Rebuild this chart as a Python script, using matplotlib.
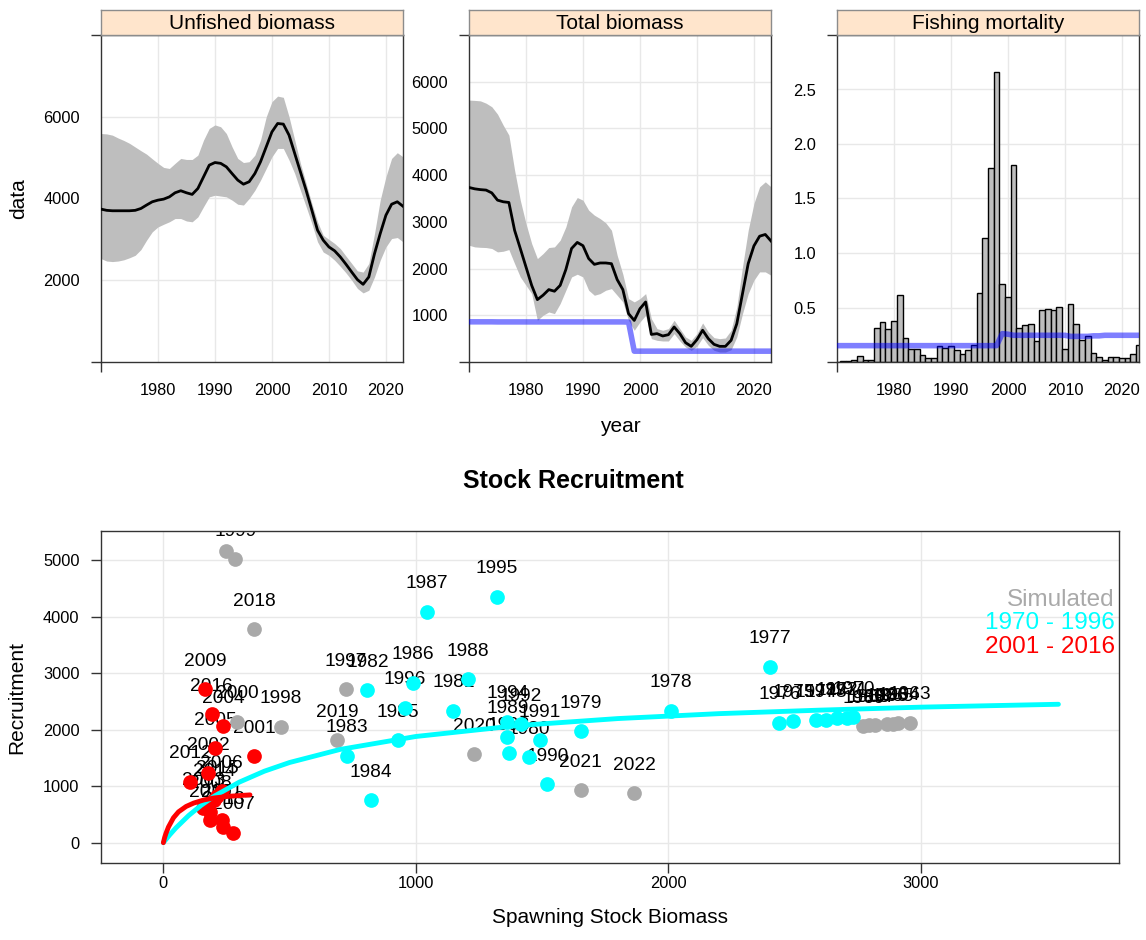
import numpy as np
import matplotlib
matplotlib.use("Agg")
import matplotlib.pyplot as plt
from matplotlib.transforms import offset_copy

plt.rcParams['font.family'] = ['Liberation Sans', 'DejaVu Sans']

# ---------------------------------------------------------------- data
years = np.arange(1970, 2024)

unfished_mid = [3740, 3710, 3700, 3700, 3700, 3700, 3710, 3755, 3840, 3920,
                3960, 3985, 4040, 4140, 4190, 4140, 4100, 4245, 4530, 4816,
                4880, 4860, 4775, 4610, 4450, 4350, 4410, 4610, 4900, 5265,
                5630, 5835, 5820, 5550, 5100, 4650, 4200, 3715, 3225, 2980,
                2815, 2720, 2570, 2390, 2200, 2015, 1900, 2080, 2650, 3140,
                3590, 3860, 3920, 3810]
unfished_hi = [5590, 5580, 5550, 5480, 5420, 5350, 5260, 5170, 5085, 4970,
               4860, 4760, 4735, 4860, 4980, 4955, 4955, 5060, 5430, 5715,
               5800, 5755, 5590, 5265, 4980, 4880, 4900, 5060, 5430, 6000,
               6370, 6505, 6475, 6000, 5430, 4860, 4370, 3880, 3430, 3100,
               3000, 2900, 2775, 2590, 2410, 2230, 2200, 2410, 3140, 3960,
               4530, 4980, 5120, 5020]
unfished_lo = [2530, 2470, 2457, 2470, 2500, 2550, 2610, 2750, 2980, 3185,
               3305, 3370, 3430, 3510, 3510, 3450, 3430, 3550, 3800, 4040,
               4080, 4060, 4040, 3960, 3860, 3840, 4000, 4200, 4450, 4735,
               5020, 5225, 5225, 4940, 4610, 4200, 3800, 3390, 2940, 2690,
               2610, 2490, 2340, 2180, 2000, 1800, 1690, 1755, 2080, 2490,
               2815, 3020, 3045, 2940]

total_mid = [3736, 3707, 3690, 3680, 3620, 3465, 3430, 3415, 2820, 2430,
             2035, 1640, 1335, 1430, 1550, 1515, 1640, 1980, 2430, 2560,
             2490, 2215, 2090, 2120, 2120, 2105, 1765, 1550, 1035, 890,
             1140, 1285, 590, 607, 557, 585, 750, 607, 414, 335,
             478, 680, 500, 378, 335, 335, 464, 820, 1464, 2107,
             2485, 2693, 2730, 2590]
total_hi = [5607, 5600, 5590, 5540, 5464, 5307, 5071, 4857, 4107, 3464,
            2964, 2535, 2214, 2321, 2450, 2464, 2607, 2893, 3321, 3521,
            3464, 3250, 3143, 3071, 2979, 2821, 2286, 1879, 1357, 1286,
            1357, 1464, 929, 714, 679, 714, 893, 714, 536, 464,
            607, 836, 643, 521, 500, 514, 679, 1179, 2036, 2821,
            3393, 3750, 3857, 3750]
total_lo = [2500, 2464, 2455, 2450, 2430, 2357, 2371, 2407, 2107, 1821,
            1643, 1464, 893, 1000, 1071, 1036, 1250, 1536, 1821, 1879,
            1821, 1536, 1429, 1464, 1536, 1571, 1429, 1286, 893, 679,
            857, 1000, 500, 464, 450, 450, 607, 450, 321, 250,
            336, 521, 357, 250, 214, 214, 264, 536, 1036, 1464,
            1750, 1929, 1929, 1857]
total_ref = [860, 860, 860, 860, 860, 858, 858, 858, 858, 858,
             858, 858, 858, 858, 858, 858, 858, 858, 858, 858,
             858, 858, 858, 858, 858, 858, 858, 858, 855, 232,
             232, 232, 232, 232, 232, 232, 232, 232, 232, 232,
             232, 232, 232, 232, 232, 232, 232, 232, 232, 232,
             232, 232, 232, 232]

fmort = [0.003, 0.005, 0.01, 0.02, 0.055, 0.02, 0.02, 0.31, 0.365, 0.30,
         0.375, 0.615, 0.22, 0.12, 0.12, 0.06, 0.035, 0.04, 0.15, 0.13,
         0.15, 0.11, 0.075, 0.11, 0.155, 0.635, 1.14, 1.78, 2.66, 0.72,
         0.60, 1.81, 0.315, 0.335, 0.345, 0.19, 0.475, 0.485, 0.48, 0.505,
         0.115, 0.53, 0.345, 0.20, 0.235, 0.085, 0.045, 0.02, 0.045, 0.05,
         0.035, 0.035, 0.07, 0.16]
fmort_ref = [0.15, 0.15, 0.15, 0.15, 0.15, 0.15, 0.15, 0.15, 0.15, 0.15,
             0.15, 0.15, 0.15, 0.15, 0.15, 0.15, 0.15, 0.15, 0.15, 0.15,
             0.15, 0.15, 0.15, 0.15, 0.15, 0.15, 0.15, 0.15, 0.15, 0.26,
             0.255, 0.245, 0.245, 0.245, 0.245, 0.245, 0.245, 0.245, 0.245, 0.245,
             0.245, 0.235, 0.235, 0.235, 0.235, 0.24, 0.24, 0.245, 0.245, 0.245,
             0.245, 0.245, 0.245, 0.245]

# stock-recruitment points: (year, SSB, recruitment)
cyan_years = [1970, 1971, 1972, 1973, 1974, 1975, 1976, 1977, 1978, 1979,
              1980, 1981, 1982, 1983, 1984, 1985, 1986, 1987, 1988, 1989,
              1990, 1991, 1992, 1993, 1994, 1995, 1996]
cyan_ssb = [2733, 2707, 2667, 2624, 2585, 2495, 2440, 2402, 2011, 1654,
            1447, 1149, 808, 726, 822, 928, 988, 1043, 1205, 1362,
            1521, 1492, 1415, 1369, 1362, 1320, 957]
cyan_rec = [2218, 2200, 2200, 2170, 2170, 2158, 2122, 3113, 2335, 1976,
            1516, 2335, 2700, 1539, 755, 1816, 2830, 4086, 2890, 1875,
            1033, 1816, 2099, 1581, 2140, 4351, 2388]

red_years = [2001, 2002, 2003, 2004, 2005, 2006, 2007, 2008, 2009, 2010,
             2011, 2012, 2013, 2014, 2015, 2016]
red_ssb = [360, 178, 158, 238, 205, 231, 277, 185, 166, 185,
           231, 106, 238, 200, 212, 192]
red_rec = [1533, 1227, 608, 2064, 1670, 913, 177, 548, 2713, 401,
           401, 1079, 272, 760, 820, 2276]

grey_years = [1997, 1998, 1999, 2000, 2017, 2018, 2019, 2020, 2021, 2022,
              1969, 1968, 1967, 1966, 1965, 1964, 1963]
grey_ssb = [722, 465, 284, 293, 248, 359, 689, 1230, 1653, 1865,
            2772, 2795, 2819, 2865, 2890, 2911, 2957]
grey_rec = [2713, 2052, 5012, 2140, 5164, 3774, 1816, 1569, 932, 873,
            2064, 2075, 2082, 2094, 2100, 2112, 2122]

# fitted stock-recruitment curves
fit_all_ssb = [0, 25, 50, 100, 150, 200, 300, 400, 500, 700, 1000, 1400,
               1800, 2200, 2600, 3000, 3545]
fit_all_rec = [0, 137, 262, 479, 662, 818, 1069, 1264, 1418, 1649, 1878,
               2070, 2195, 2282, 2344, 2397, 2448]
fit_recent_ssb = [0, 5, 10, 20, 40, 60, 90, 120, 160, 200, 260, 343]
fit_recent_rec = [0, 90, 160, 275, 440, 545, 640, 700, 755, 790, 820, 845]

# ---------------------------------------------------------------- layout
W, H = 1146, 940
fig = plt.figure(figsize=(W / 100, H / 100), dpi=100)


def box(x0, y0, x1, y1):
    return [x0 / W, 1 - y1 / H, (x1 - x0) / W, (y1 - y0) / H]


FRAME = '#333333'
GRID = '#E8E8E8'
TICK_FS = 11.8


def style_frame(ax):
    for s in ax.spines.values():
        s.set_color(FRAME)
        s.set_linewidth(1.0)


def top_panel(x0, x1, title, ylim, yticks):
    ax = fig.add_axes(box(x0, 35, x1, 362))
    ax.set_xlim(1970, 2023)
    ax.set_ylim(*ylim)
    xt = [1980, 1990, 2000, 2010, 2020]
    ax.set_xticks(xt)
    ax.set_yticks(yticks)
    ax.set_xticks([1970], minor=True)
    ax.set_yticks([ylim[0], ylim[1]], minor=True)
    ax.tick_params(which='major', length=0, labelsize=TICK_FS)
    ax.tick_params(axis='y', which='major', pad=15)
    ax.tick_params(axis='x', which='major', pad=15)
    ax.tick_params(which='minor', length=7.5, width=1, color=FRAME)
    ax.grid(True, which='major', color=GRID, lw=1)
    ax.set_axisbelow(True)
    style_frame(ax)
    st = fig.add_axes(box(x0, 10, x1, 35))
    st.set_facecolor('#FFE5CC')
    st.set_xticks([])
    st.set_yticks([])
    for s in st.spines.values():
        s.set_color('#8C8C8C')
        s.set_linewidth(1.0)
    st.text(0.5, 0.45, title, ha='center', va='center', fontsize=15,
            transform=st.transAxes)
    return ax


# Unfished biomass
ax1 = top_panel(101, 403, 'Unfished biomass', (0, 8000), [2000, 4000, 6000])
ax1.fill_between(years, unfished_lo, unfished_hi, color='#BEBEBE', lw=0, zorder=2)
ax1.plot(years, unfished_mid, color='black', lw=2, zorder=3)
ax1.set_ylabel('data', fontsize=15, labelpad=11)

# Total biomass
ax2 = top_panel(469, 771, 'Total biomass', (0, 7000),
                [1000, 2000, 3000, 4000, 5000, 6000])
ax2.fill_between(years, total_lo, total_hi, color='#BEBEBE', lw=0, zorder=2)
ax2.plot(years, total_ref, color='#0000FF', alpha=0.5, lw=4, zorder=3,
         solid_capstyle='butt')
ax2.plot(years, total_mid, color='black', lw=2, zorder=4)
ax2.set_xlabel('year', fontsize=15, labelpad=14)

# Fishing mortality
ax3 = top_panel(837, 1139, 'Fishing mortality', (0, 3.0),
                [0.5, 1.0, 1.5, 2.0, 2.5])
ax3.set_yticklabels(['0.5', '1.0', '1.5', '2.0', '2.5'])
ax3.bar(years, fmort, width=1.0, color='#BEBEBE', edgecolor='black',
        linewidth=1, zorder=2)
ax3.plot(years, fmort_ref, color='#0000FF', alpha=0.5, lw=4, zorder=3,
         solid_capstyle='butt')

# ---------------------------------------------------------------- stock recruitment
ax = fig.add_axes(box(101, 531, 1119, 863))
ax.set_xlim(-247, 3785)
ax.set_ylim(-360, 5513)
ax.set_xticks([0, 1000, 2000, 3000])
ax.set_yticks([0, 1000, 2000, 3000, 4000, 5000])
ax.tick_params(length=7.5, width=1, color=FRAME, labelsize=TICK_FS)
ax.tick_params(axis='y', pad=8)
ax.tick_params(axis='x', pad=2)
ax.grid(True, color=GRID, lw=1)
ax.set_axisbelow(True)
style_frame(ax)

label_tr = offset_copy(ax.transData, fig=fig, x=0, y=20, units='points')
LABEL_FS = 13.8
MS = 112

for yrs, xs, ys, col in ((grey_years, grey_ssb, grey_rec, '#A9A9A9'),
                         (cyan_years, cyan_ssb, cyan_rec, '#00FFFF'),
                         (red_years, red_ssb, red_rec, '#FF0000')):
    for yr, xv, yv in zip(yrs, xs, ys):
        ax.text(xv, yv, str(yr), transform=label_tr, ha='center', va='center',
                fontsize=LABEL_FS, color='black', clip_on=True, zorder=2)
    ax.scatter(xs, ys, s=MS, color=col, linewidths=0, zorder=3)

ax.plot(fit_all_ssb, fit_all_rec, color='#00FFFF', lw=3.5, zorder=4,
        solid_capstyle='round')
ax.plot(fit_recent_ssb, fit_recent_rec, color='#FF0000', lw=3.5, zorder=5,
        solid_capstyle='round')

ax.set_xlabel('Spawning Stock Biomass', fontsize=15, labelpad=12)
ax.set_ylabel('Recruitment', fontsize=15, labelpad=12)
fig.text(573 / W, 1 - 481 / H, 'Stock Recruitment', ha='center', va='center',
         fontsize=18, fontweight='bold')

legend_rows = [('Simulated', '#A9A9A9', 600),
               ('1970 - 1996', '#00FFFF', 623),
               ('2001 - 2016', '#FF0000', 647)]
for txt, col, ypx in legend_rows:
    fig.text(1115 / W, 1 - ypx / H, txt, ha='right', va='center',
             fontsize=17.5, color=col)

fig.savefig('out.png', dpi=100)
